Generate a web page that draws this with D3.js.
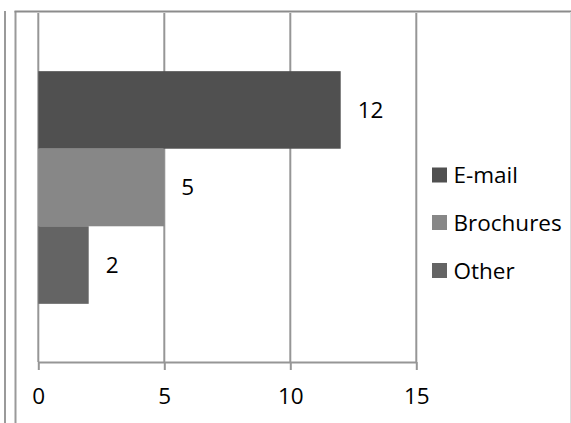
<!DOCTYPE html>
<html>
<head>
<meta charset="utf-8">
<script src="https://cdn.jsdelivr.net/npm/d3@7"></script>
<style>
html,body{margin:0;padding:0;background:#fff;}
svg{display:block;}
text{font-family:"Open Sans",sans-serif;fill:#000;}
</style>
</head>
<body>
<svg id="chart" width="571" height="423"></svg>
<script>
const series = ["E-mail", "Brochures", "Other"];
const values = [12, 5, 2];
const colors = ["#505050", "#878787", "#646464"];
const xTicks = [0, 5, 10, 15];

const svg = d3.select("#chart");
const W = 571, H = 423;
const FS = 22.5;

// outer frame lines
svg.append("line").attr("x1",5).attr("x2",5).attr("y1",11).attr("y2",H)
  .attr("stroke","#9a9a9a").attr("stroke-width",2);
svg.append("line").attr("x1",15.5).attr("x2",15.5).attr("y1",11).attr("y2",H)
  .attr("stroke","#9a9a9a").attr("stroke-width",2);
svg.append("line").attr("x1",14.5).attr("x2",W).attr("y1",11.5).attr("y2",11.5)
  .attr("stroke","#8c8c8c").attr("stroke-width",2);
svg.append("line").attr("x1",570.5).attr("x2",570.5).attr("y1",12).attr("y2",H)
  .attr("stroke","#dcdcdc").attr("stroke-width",1);

const plotTop = 13, plotBottom = 362;
const x = d3.scaleLinear().domain([0, 15]).range([38.3, 416.3]);
const band = d3.scaleBand().domain(["cat"]).range([plotTop, plotBottom]);
const barH = band.bandwidth() / 4.5;
const y = d3.scaleBand().domain(series).range([band("cat") + barH*0.75, band("cat") + band.bandwidth() - barH*0.75]).padding(0);

// gridlines
svg.append("g").selectAll("line").data(xTicks).join("line")
  .attr("x1", d => x(d)).attr("x2", d => x(d))
  .attr("y1", plotTop).attr("y2", plotBottom)
  .attr("stroke", "#969696").attr("stroke-width", 2);

// bars
svg.append("g").selectAll("rect").data(series).join("rect")
  .attr("x", x(0))
  .attr("y", d => y(d))
  .attr("width", (d,i) => x(values[i]) - x(0))
  .attr("height", y.bandwidth())
  .attr("fill", (d,i) => colors[i]);

// axis
const axis = d3.axisBottom(x).tickValues(xTicks).tickSize(8).tickPadding(18).tickSizeOuter(0);
const ag = svg.append("g").attr("transform", `translate(0,${plotBottom})`).call(axis);
ag.select(".domain").attr("stroke", "#969696").attr("stroke-width", 2);
ag.selectAll(".tick line").attr("stroke", "#969696").attr("stroke-width", 2);
ag.selectAll(".tick text").attr("font-size", FS).attr("font-family", "Open Sans").attr("fill", "#000");

// data labels
svg.append("g").selectAll("text").data(series).join("text")
  .attr("x", (d,i) => x(values[i]) + 17)
  .attr("y", d => y(d) + y.bandwidth()/2)
  .attr("dy", "0.35em")
  .attr("font-size", FS)
  .text((d,i) => values[i]);

// legend
const legY = [175.5, 223, 271];
const lg = svg.append("g").selectAll("g").data(series).join("g")
  .attr("transform", (d,i) => `translate(432,${legY[i]})`);
lg.append("rect").attr("x", 0).attr("y", -8).attr("width", 15).attr("height", 15)
  .attr("fill", (d,i) => colors[i]);
lg.append("text").attr("x", 21.5).attr("y", 0).attr("dy", "0.35em")
  .attr("font-size", FS).text(d => d);
</script>
</body>
</html>
